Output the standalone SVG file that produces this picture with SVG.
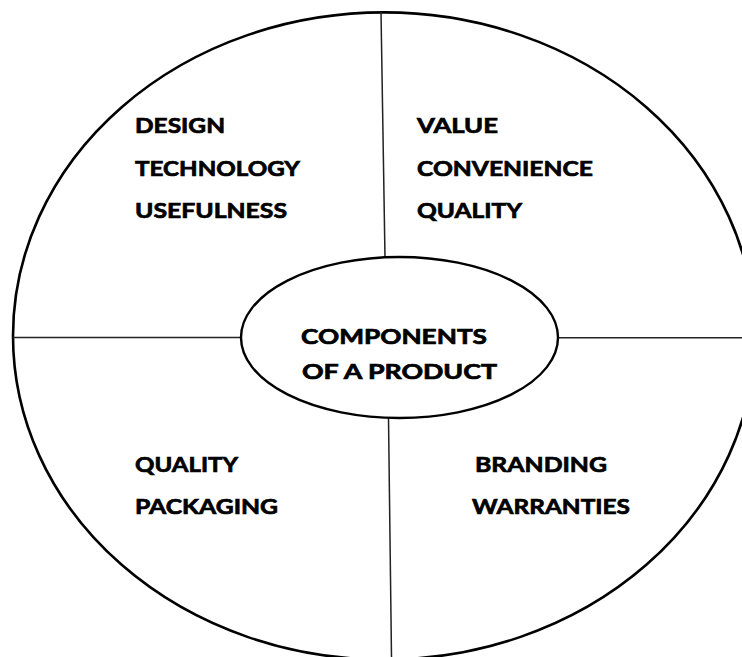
<svg xmlns="http://www.w3.org/2000/svg" width="742" height="657" viewBox="0 0 742 657">
<style>
.outline{fill:none;stroke:#000;stroke-width:2.6}
.hub{fill:#fff;stroke:#000;stroke-width:2.4}
.conn{stroke:#222;stroke-width:1.5;fill:none}
.lbl{font-family:Lato,"Open Sans","Liberation Sans",sans-serif;font-weight:700;font-size:21px;fill:#000;stroke:#000;stroke-width:0.7}
</style>
<rect width="742" height="657" fill="#fff"/>
<g id="outer-circle">
<ellipse class="outline" cx="384" cy="336" rx="371" ry="323.6"/>
</g>
<g id="connectors">
<line class="conn" x1="381" y1="12" x2="385" y2="257"/>
<line class="conn" x1="388.5" y1="418" x2="391.5" y2="657"/>
<line class="conn" x1="13" y1="337.6" x2="241" y2="337.6"/>
<line class="conn" x1="558" y1="337.7" x2="742" y2="337.7"/>
</g>
<g id="center">
<ellipse class="hub" cx="399.5" cy="337.5" rx="158.5" ry="80.5"/>
<text class="lbl" x="301" y="344" textLength="186" lengthAdjust="spacingAndGlyphs">COMPONENTS</text>
<text class="lbl" x="302" y="379" textLength="195" lengthAdjust="spacingAndGlyphs">OF A PRODUCT</text>
</g>
<g id="top-left">
<text class="lbl" x="135" y="133" textLength="90" lengthAdjust="spacingAndGlyphs">DESIGN</text>
<text class="lbl" x="135" y="176" textLength="165" lengthAdjust="spacingAndGlyphs">TECHNOLOGY</text>
<text class="lbl" x="135" y="218" textLength="152" lengthAdjust="spacingAndGlyphs">USEFULNESS</text>
</g>
<g id="top-right">
<text class="lbl" x="417" y="133" textLength="81" lengthAdjust="spacingAndGlyphs">VALUE</text>
<text class="lbl" x="417" y="176" textLength="176" lengthAdjust="spacingAndGlyphs">CONVENIENCE</text>
<text class="lbl" x="417" y="218" textLength="105" lengthAdjust="spacingAndGlyphs">QUALITY</text>
</g>
<g id="bottom-left">
<text class="lbl" x="135" y="472" textLength="103" lengthAdjust="spacingAndGlyphs">QUALITY</text>
<text class="lbl" x="135" y="514" textLength="143" lengthAdjust="spacingAndGlyphs">PACKAGING</text>
</g>
<g id="bottom-right">
<text class="lbl" x="475" y="472" textLength="132" lengthAdjust="spacingAndGlyphs">BRANDING</text>
<text class="lbl" x="472" y="514" textLength="158" lengthAdjust="spacingAndGlyphs">WARRANTIES</text>
</g>
</svg>
